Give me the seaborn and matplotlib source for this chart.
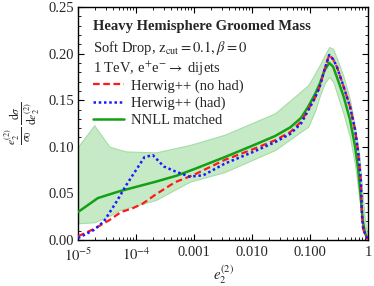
import numpy as np
import pandas as pd
import seaborn as sns
import matplotlib.pyplot as plt
from matplotlib.ticker import FixedLocator, FixedFormatter, MultipleLocator, LogLocator, NullFormatter

# NNLL matched (green solid)
x_nnll = [1.0e-5, 2.2e-5, 5.0e-5, 1.0e-4, 2.2e-4, 5.0e-4, 1.0e-3, 3.4e-3, 0.01, 0.025,
          0.046, 0.07, 0.093, 0.123, 0.148, 0.178, 0.214, 0.25, 0.29, 0.38, 0.49,
          0.60, 0.68, 0.75, 0.81, 0.89, 1.0]
y_nnll = [0.030, 0.045, 0.052, 0.057, 0.0626, 0.069, 0.076, 0.089, 0.101, 0.1116,
          0.121, 0.131, 0.143, 0.157, 0.168, 0.182, 0.190, 0.186, 0.175, 0.154, 0.129,
          0.100, 0.075, 0.046, 0.021, 0.007, 0.0]

# Herwig++ (no had) (red dashed)
x_nohad = [1.0e-5, 1.9e-5, 3.5e-5, 5.5e-5, 8.7e-5, 1.3e-4, 2.2e-4, 4.7e-4, 1.0e-3, 3.4e-3,
           0.01, 0.025, 0.046, 0.07, 0.093, 0.123, 0.148, 0.178, 0.214, 0.25, 0.29,
           0.38, 0.49, 0.60, 0.68, 0.75, 0.79, 0.83, 1.0]
y_nohad = [0.004, 0.012, 0.0215, 0.030, 0.034, 0.039, 0.049, 0.062, 0.070, 0.086,
           0.097, 0.107, 0.116, 0.127, 0.140, 0.153, 0.165, 0.183, 0.1985, 0.194, 0.186,
           0.1645, 0.143, 0.118, 0.093, 0.064, 0.025, 0.011, 0.0]

# Herwig++ (had) (blue dotted)
x_had = [1.0e-5, 1.9e-5, 2.8e-5, 4.6e-5, 6.8e-5, 1.0e-4, 1.4e-4, 1.95e-4, 3.0e-4, 5.0e-4,
         8.5e-4, 1.45e-3, 3.4e-3, 0.01, 0.025, 0.046, 0.07, 0.093, 0.123, 0.148, 0.178,
         0.214, 0.25, 0.29, 0.38, 0.49, 0.60, 0.68, 0.75, 0.79, 0.83, 1.0]
y_had = [0.002, 0.011, 0.020, 0.041, 0.059, 0.075, 0.089, 0.091, 0.079, 0.073,
         0.068, 0.0695, 0.082, 0.094, 0.105, 0.114, 0.125, 0.139, 0.153, 0.165, 0.183,
         0.1985, 0.194, 0.186, 0.1645, 0.143, 0.118, 0.093, 0.064, 0.025, 0.011, 0.0]

# NNLL uncertainty band
x_band = [1.0e-5, 1.9e-5, 3.5e-5, 5.1e-5, 6.8e-5, 2.2e-4, 8.5e-4, 3.4e-3, 0.025, 0.093,
          0.123, 0.148, 0.178, 0.214, 0.25, 0.29, 0.38, 0.49, 0.60, 0.71,
          0.79, 0.89, 1.0]
band_lo = [0.018, 0.019, 0.026, 0.032, 0.034, 0.043, 0.0626, 0.073, 0.0966, 0.1216,
           0.139, 0.155, 0.168, 0.175, 0.170, 0.158, 0.135, 0.110, 0.080, 0.045,
           0.020, 0.006, 0.0]
band_hi = [0.100, 0.123, 0.100, 0.097, 0.095, 0.094, 0.102, 0.113, 0.136, 0.166,
           0.179, 0.188, 0.198, 0.207, 0.205, 0.195, 0.175, 0.150, 0.120, 0.090,
           0.055, 0.020, 0.0]

xtick_vals = [1e-5, 1e-4, 1e-3, 1e-2, 1e-1, 1]
xtick_labels = [r'$10^{-5}$', r'$10^{-4}$', '0.001', '0.010', '0.100', '1']

sns.set_style("ticks")
plt.rcParams['font.family'] = ['Liberation Serif', 'DejaVu Serif']
plt.rcParams['mathtext.fontset'] = 'stix'
fs = 10.5

fig = plt.figure(figsize=(3.74, 2.86), dpi=100)
ax = fig.add_axes([0.2086, 0.1608, 0.7754, 0.8147])

ax.fill_between(x_band, band_lo, band_hi, facecolor='#c6eac6', edgecolor='#a6dca6',
                linewidth=0.8, zorder=1)

df_nnll = pd.DataFrame({'x': x_nnll, 'y': y_nnll})
df_nohad = pd.DataFrame({'x': x_nohad, 'y': y_nohad})
df_had = pd.DataFrame({'x': x_had, 'y': y_had})

sns.lineplot(data=df_nnll, x='x', y='y', ax=ax, color='#14a014', linewidth=1.8,
             label='NNLL matched', zorder=3)
sns.lineplot(data=df_nohad, x='x', y='y', ax=ax, color='#ff1a1a', linewidth=1.6,
             linestyle=(0, (3, 1.6)), label='Herwig++ (no had)', zorder=4)
sns.lineplot(data=df_had, x='x', y='y', ax=ax, color='#1a1aff', linewidth=1.8,
             linestyle=(0, (1, 1.1)), label='Herwig++ (had)', zorder=5)

ax.set_xscale('log')
ax.set_xlim(1e-5, 1)
ax.set_ylim(0, 0.25)

ax.xaxis.set_major_locator(FixedLocator(xtick_vals))
ax.xaxis.set_major_formatter(FixedFormatter(xtick_labels))
ax.xaxis.set_minor_locator(LogLocator(base=10, subs=np.arange(2, 10)))
ax.xaxis.set_minor_formatter(NullFormatter())
ax.yaxis.set_major_locator(MultipleLocator(0.05))
ax.yaxis.set_minor_locator(MultipleLocator(0.01))
ax.yaxis.set_major_formatter(plt.FuncFormatter(lambda v, p: f'{v:.2f}'))

ax.tick_params(which='both', direction='in', top=True, right=True, labelsize=fs, color='black')
ax.tick_params(which='major', length=4, width=0.8)
ax.tick_params(which='minor', length=2, width=0.6)
ax.tick_params(axis='x', which='major', pad=4.5)
ax.tick_params(axis='y', which='major', pad=3)
for s in ax.spines.values():
    s.set_linewidth(1.0)
    s.set_color('black')

ax.set_xlabel(r'$e_2^{(2)}$', fontsize=fs)
ax.xaxis.set_label_coords(0.5, -0.1)
ax.set_ylabel(r'$\frac{e_2^{(2)}}{\sigma_0}\,\frac{\mathrm{d}\sigma}{\mathrm{d}e_2^{(2)}}$',
              fontsize=12)
ax.yaxis.set_label_coords(-0.125, 0.5)

ax.text(0.052, 0.915, 'Heavy Hemisphere Groomed Mass', transform=ax.transAxes,
        fontsize=fs, fontweight='bold', va='center', ha='left')
ax.text(0.052, 0.824, r'Soft Drop, $\mathrm{z}_{\rm cut} = 0.1, \beta = 0$', transform=ax.transAxes,
        fontsize=fs, va='center', ha='left')
ax.text(0.052, 0.734, r'1 TeV, e$^{+}$e$^{-}$$\rightarrow$ dijets', transform=ax.transAxes,
        fontsize=fs, va='center', ha='left')

handles, labels = ax.get_legend_handles_labels()
order = [labels.index('Herwig++ (no had)'), labels.index('Herwig++ (had)'), labels.index('NNLL matched')]
ax.legend([handles[i] for i in order], [labels[i] for i in order],
          loc='upper left', bbox_to_anchor=(0.052, 0.69), frameon=False, fontsize=fs,
          borderpad=0, borderaxespad=0, handlelength=2.1, handletextpad=0.5, labelspacing=0.25)

fig.savefig('out.png', dpi=100)
